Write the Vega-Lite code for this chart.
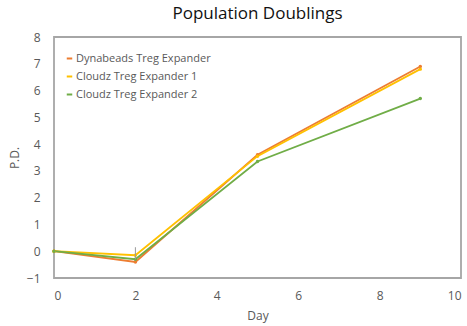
{
  "$schema": "https://vega.github.io/schema/vega-lite/v6.json",
  "width": 407,
  "height": 241,
  "autosize": {"type": "none"},
  "padding": {"left": 54, "top": 37, "right": 6, "bottom": 48},
  "background": "white",
  "title": {"text": "Population Doublings", "fontSize": 17, "font": "Open Sans", "fontWeight": 500, "color": "#111111", "offset": 8, "anchor": "middle"},
  "config": {
    "view": {"stroke": "#A6A6A6", "strokeWidth": 1.8},
    "font": "Open Sans",
    "axis": {"labelOverlap": false, "grid": false, "ticks": false, "domain": false, "labelFontSize": 12, "labelColor": "#595959", "titleFontSize": 12, "titleFontWeight": "normal", "titleColor": "#595959"},
    "axisX": {"labelPadding": 12, "titlePadding": 9},
    "axisY": {"labelPadding": 14, "titlePadding": 5}
  },
  "datasets": {
    "pd": [
      {"day": 0, "pd": 0, "series": "Dynabeads Treg Expander"},
      {"day": 2, "pd": -0.4, "series": "Dynabeads Treg Expander"},
      {"day": 5, "pd": 3.6, "series": "Dynabeads Treg Expander"},
      {"day": 9, "pd": 6.9, "series": "Dynabeads Treg Expander"},
      {"day": 0, "pd": 0, "series": "Cloudz Treg Expander 1"},
      {"day": 2, "pd": -0.15, "series": "Cloudz Treg Expander 1"},
      {"day": 5, "pd": 3.55, "series": "Cloudz Treg Expander 1"},
      {"day": 9, "pd": 6.8, "series": "Cloudz Treg Expander 1"},
      {"day": 0, "pd": 0, "series": "Cloudz Treg Expander 2"},
      {"day": 2, "pd": -0.3, "series": "Cloudz Treg Expander 2"},
      {"day": 5, "pd": 3.35, "series": "Cloudz Treg Expander 2"},
      {"day": 9, "pd": 5.7, "series": "Cloudz Treg Expander 2"}
    ],
    "err": [
      {"day": 2, "lo": -0.3, "hi": 0.15}
    ]
  },
  "layer": [
    {
      "data": {"name": "pd"},
      "mark": {"type": "line", "strokeWidth": 1.8, "point": {"size": 12, "filled": true}},
      "encoding": {
        "x": {
          "field": "day", "type": "quantitative",
          "scale": {"domain": [0, 10], "nice": false},
          "axis": {"title": "Day", "values": [0, 2, 4, 6, 8, 10], "tickCount": 20, "format": "d"}
        },
        "y": {
          "field": "pd", "type": "quantitative",
          "scale": {"domain": [-1, 8], "nice": false},
          "axis": {"title": "P.D.", "values": [-1, 0, 1, 2, 3, 4, 5, 6, 7, 8], "tickCount": 20, "format": "d"}
        },
        "color": {
          "field": "series", "type": "nominal",
          "scale": {"domain": ["Dynabeads Treg Expander", "Cloudz Treg Expander 1", "Cloudz Treg Expander 2"], "range": ["#ED7D31", "#FFC000", "#70AD47"]},
          "legend": {"title": null, "orient": "none", "legendX": 10, "legendY": 16, "labelFontSize": 11, "labelColor": "#595959", "symbolType": "stroke", "symbolSize": 30, "symbolStrokeWidth": 2, "rowPadding": 6, "labelOffset": 1}
        }
      }
    },
    {
      "mark": {"type": "rule", "color": "#E3E3E3", "strokeWidth": 1},
      "encoding": {"y": {"datum": 0, "type": "quantitative"}}
    },
    {
      "data": {"name": "err"},
      "mark": {"type": "rule", "color": "#9a9a9a", "strokeWidth": 1},
      "encoding": {
        "x": {"field": "day", "type": "quantitative"},
        "y": {"field": "lo", "type": "quantitative"},
        "y2": {"field": "hi"}
      }
    }
  ]
}
